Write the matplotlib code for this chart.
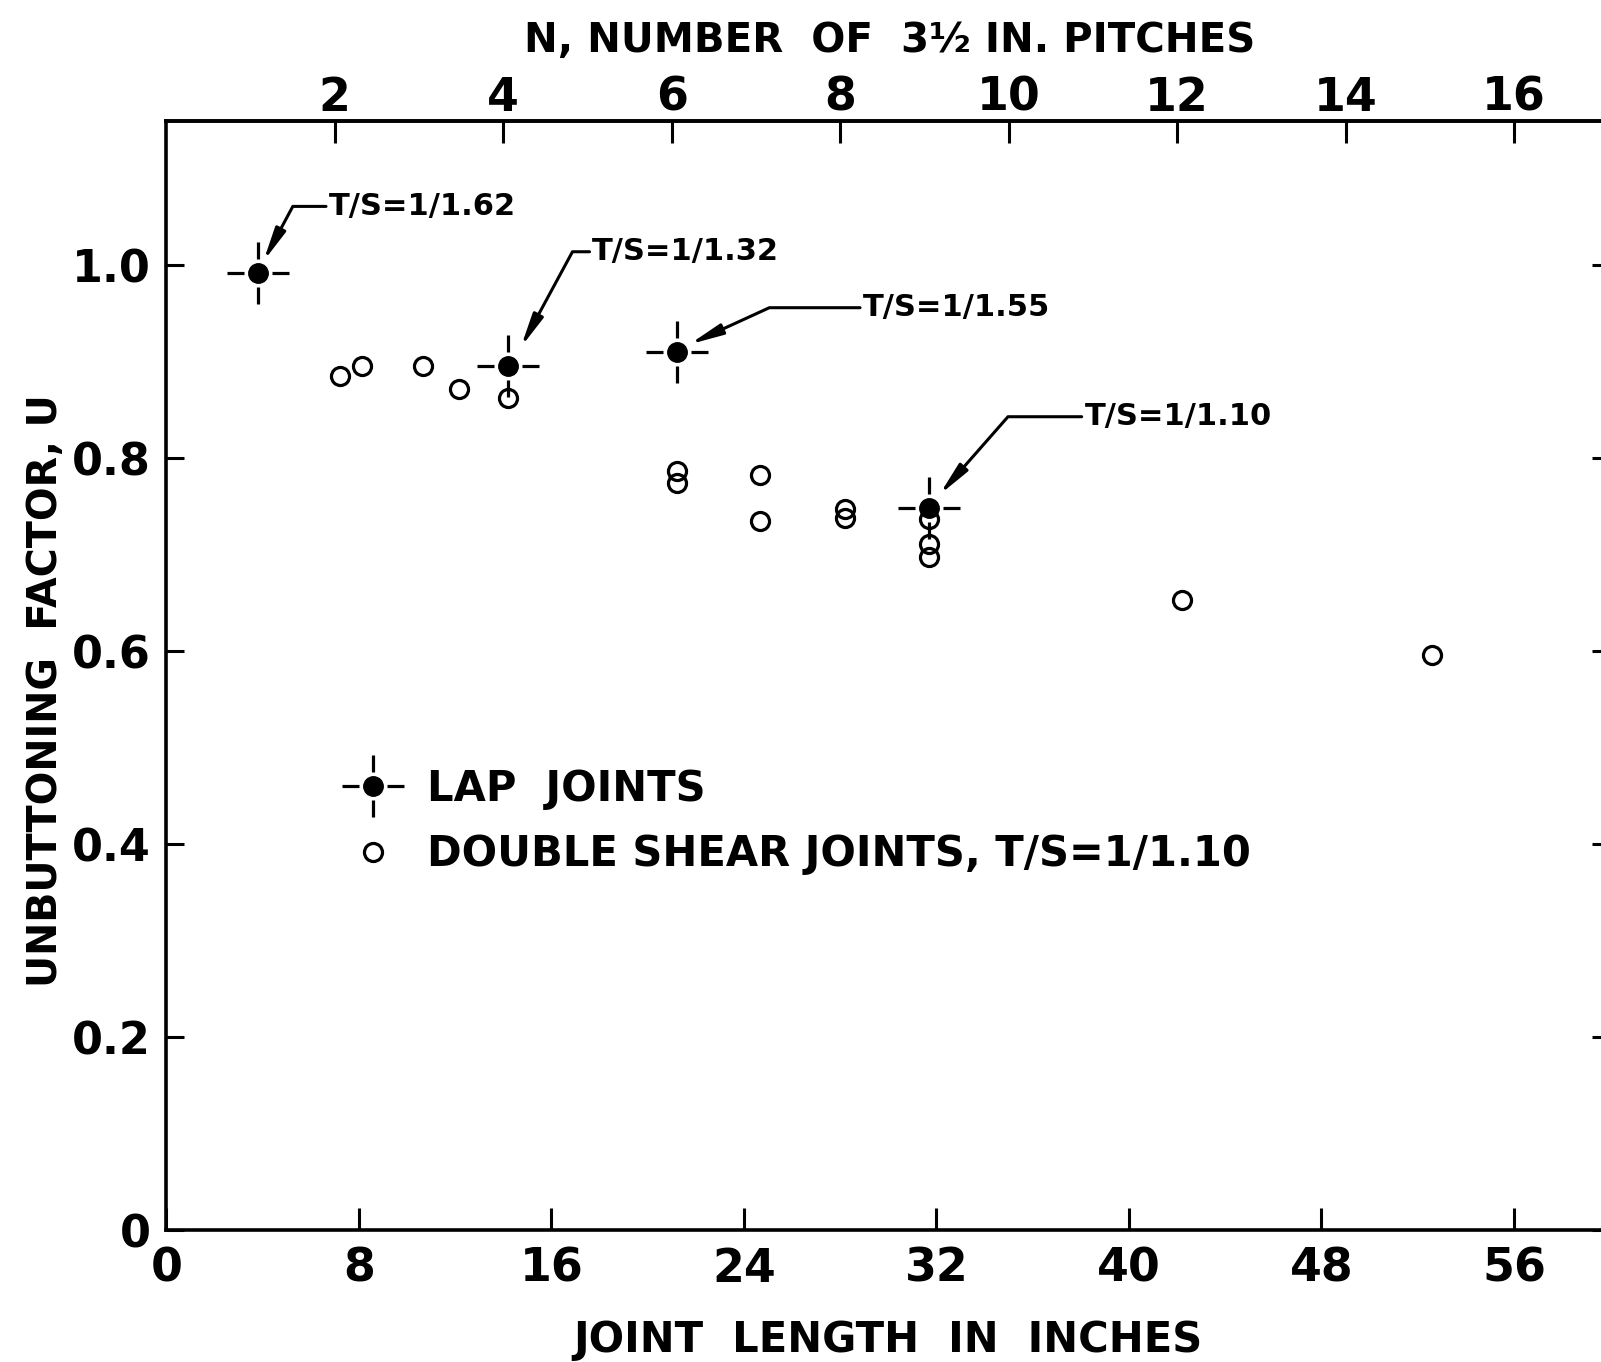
import numpy as np
import matplotlib
matplotlib.use("Agg")
import matplotlib.pyplot as plt
from matplotlib.path import Path
from matplotlib.legend_handler import HandlerTuple

plt.rcParams['font.family'] = ['DejaVu Sans']
plt.rcParams['font.weight'] = 'bold'
plt.rcParams['axes.labelweight'] = 'bold'

# lap joints, values
lap_len = [3.8, 14.2, 21.2, 31.7]
lap_u = [0.992, 0.896, 0.910, 0.748]
lap_ts = ["T/S=1/1.62", "T/S=1/1.32", "T/S=1/1.55", "T/S=1/1.10"]

# double shear joints, T/S = 1/1.10
ds_len = [7.2, 8.15, 10.65, 12.15, 14.2, 21.2, 21.2, 24.65, 24.65,
          28.2, 28.2, 31.7, 31.7, 31.7, 42.2, 52.6]
ds_u = [0.885, 0.896, 0.896, 0.872, 0.862, 0.787, 0.774, 0.783, 0.735,
        0.747, 0.738, 0.737, 0.711, 0.698, 0.653, 0.596]

x_ticks = [0, 8, 16, 24, 32, 40, 48, 56]
y_ticks = [0, 0.2, 0.4, 0.6, 0.8, 1.0]
y_ticklabels = ["0", "0.2", "0.4", "0.6", "0.8", "1.0"]
n_ticks = [2, 4, 6, 8, 10, 12, 14, 16]
PITCH = 3.5

# where the T/S notes sit (text left-middle, arrow tip, angle of the slanted leg)
notes = [
    ((6.75, 1.061), (4.03, 1.004), 61.8),
    ((17.70, 1.014), (14.73, 0.915), 61.6),
    ((28.94, 0.956), (21.73, 0.918), 24.6),
    ((38.15, 0.843), (32.12, 0.762), 48.7),
]

fig = plt.figure(figsize=(16.01, 13.62), dpi=100)
ax = fig.add_axes([0.1039, 0.0969, 0.9019, 0.8146])

# crosshair marker with a gap around the dot
r0, r1 = 0.45, 1.0
cross = Path([(r0, 0), (r1, 0), (-r0, 0), (-r1, 0),
              (0, r0), (0, r1), (0, -r0), (0, -r1)],
             [Path.MOVETO, Path.LINETO] * 4)

circ, = ax.plot(ds_len, ds_u, 'o', ms=13, mfc='none', mec='k', mew=2.3,
                ls='none')
hair, = ax.plot(lap_len, lap_u, marker=cross, ms=44, mfc='none', mec='k',
                mew=2.3, ls='none')
dot, = ax.plot(lap_len, lap_u, 'o', ms=14, mfc='k', mec='k', ls='none')

for (txt_xy, tip, ang), lab in zip(notes, lap_ts):
    ax.annotate(lab, xy=tip, xytext=txt_xy, ha='left', va='center',
                fontsize=22,
                arrowprops=dict(arrowstyle="-|>,head_length=0.9,head_width=0.15",
                                connectionstyle=f"angle,angleA=0,angleB={ang},rad=0",
                                lw=2.2, color='k', shrinkA=0, shrinkB=0,
                                relpos=(0, 0.5)))

ax.set_xlim(0, 60)
ax.set_ylim(0, 1.15)
ax.set_xticks(x_ticks)
ax.set_yticks(y_ticks)
ax.set_yticklabels(y_ticklabels)

ax.tick_params(axis='x', direction='in', length=16, width=2.2,
               labelsize=33, pad=12, top=False)
ax.tick_params(axis='y', direction='in', length=13, width=2.2,
               labelsize=32, pad=11, left=True, right=True, labelright=False)
for s in ax.spines.values():
    s.set_linewidth(2.6)

secax = ax.secondary_xaxis('top', functions=(lambda x: x / PITCH,
                                              lambda n: n * PITCH))
secax.set_xticks(n_ticks)
secax.tick_params(direction='in', length=16, width=2.2, labelsize=33, pad=0)
secax.spines['top'].set_linewidth(2.6)

ax.set_xlabel("JOINT  LENGTH  IN  INCHES", fontsize=30, fontweight='bold',
              va='center')
ax.xaxis.set_label_coords(0.5, -0.0991)
ax.set_ylabel("UNBUTTONING  FACTOR, U", fontsize=28.5, fontweight='bold',
              va='center')
ax.yaxis.set_label_coords(-0.0834, 0.486)
secax.set_xlabel("N, NUMBER  OF  3½ IN. PITCHES", fontsize=29,
                 fontweight='bold', va='center')
secax.xaxis.set_label_coords(0.501, 1.0717, transform=ax.transAxes)

ax.legend([(hair, dot), circ],
          ["LAP  JOINTS", "DOUBLE SHEAR JOINTS, T/S=1/1.10"],
          handler_map={tuple: HandlerTuple(ndivide=1, pad=0)},
          loc='center left', bbox_to_anchor=(0.117, 0.368),
          frameon=False, fontsize=30, borderpad=0, borderaxespad=0,
          handlelength=1.8, handletextpad=0.4, labelspacing=0.56)

fig.savefig("out.png", dpi=100)
